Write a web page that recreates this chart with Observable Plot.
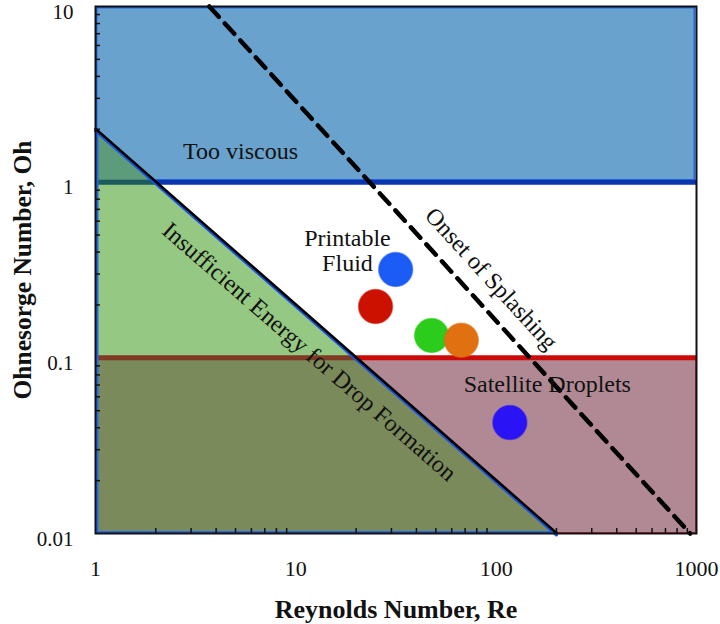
<!DOCTYPE html>
<html><head><meta charset="utf-8">
<script src="https://cdn.jsdelivr.net/npm/d3@7"></script>
<script src="https://cdn.jsdelivr.net/npm/@observablehq/plot@0.6"></script>
<style>body{margin:0;background:#fff} #chart{width:720px;height:624px}</style>
</head><body><div id="chart"></div>
<script>
// ---- data ----
const reTicks = [1, 10, 100, 1000];
const ohTicks = [0.01, 0.1, 1, 10];
const viscousLimit = 1;          // Oh above: too viscous
const satelliteLimit = 0.1;      // Oh below: satellite droplets
const energyRe = [1, 200];       // insufficient-energy boundary
const energyOh = [2, 0.01];
const splashRe = [3.7, 930];     // onset of splashing
const splashOh = [10, 0.01];
const fluidRe = [31.5, 25, 47.6, 67, 117];
const fluidOh = [0.318, 0.196, 0.134, 0.126, 0.0428];
const fluidColor = ["#1a5cf5", "#cc1100", "#2bcc1c", "#e07010", "#2a14f5"];
const labelText = ["Too viscous", "Printable\nFluid", "Satellite Droplets", "Onset of Splashing", "Insufficient Energy for Drop Formation"];
const labelRe = [5.3, 18.1, 180, 94.8, 11.7];
const labelOh = [1.51, 0.41, 0.0714, 0.283, 0.1087];
const labelRotate = [0, 0, 0, 47.5, 41];
const xTitle = "Reynolds Number, Re";
const yTitle = "Ohnesorge Number, Oh";

// ---- derived ----
const W = 720, H = 624, mL = 95, mR = 24, mT = 6, mB = 91;
const reMin = reTicks[0], reMax = reTicks[reTicks.length - 1];
const ohMin = ohTicks[0], ohMax = ohTicks[ohTicks.length - 1];
const L = Math.log10;
function reOnEnergy(oh) {
  const t = (L(oh) - L(energyOh[0])) / (L(energyOh[1]) - L(energyOh[0]));
  return 10 ** (L(energyRe[0]) + t * (L(energyRe[1]) - L(energyRe[0])));
}
const reV = reOnEnergy(viscousLimit), reS = reOnEnergy(satelliteLimit);
const pieceTop = [[energyRe[0], energyOh[0]], [energyRe[0], viscousLimit], [reV, viscousLimit]];
const pieceMid = [[energyRe[0], viscousLimit], [energyRe[0], satelliteLimit], [reS, satelliteLimit], [reV, viscousLimit]];
const pieceBot = [[energyRe[0], satelliteLimit], [energyRe[0], energyOh[1]], [energyRe[1], energyOh[1]], [reS, satelliteLimit]];
const minor = (lo, hi) => { const a = []; for (let d = lo; d < hi * 0.999; d *= 10) for (let m = 2; m <= 9; m++) a.push(d * m); return a; };
const energyPts = energyRe.map((r, i) => [r, energyOh[i]]);
const splashPts = splashRe.map((r, i) => [r, splashOh[i]]);
const fluids = fluidRe.map((r, i) => ({re: r, oh: fluidOh[i], c: fluidColor[i]}));
const labels = labelText.map((t, i) => ({t, re: labelRe[i], oh: labelOh[i], r: labelRotate[i]}));

const font = "Liberation Serif, DejaVu Serif, serif";
const P = d => d[0], Q = d => d[1];
const innerW = W - mL - mR, innerH = H - mT - mB;

const chart = Plot.plot({
  width: W, height: H,
  marginLeft: mL, marginRight: mR, marginTop: mT, marginBottom: mB,
  style: {fontFamily: font, background: "#fff"},
  x: {type: "log", domain: [reMin, reMax], axis: null},
  y: {type: "log", domain: [ohMin, ohMax], axis: null},
  marks: [
    // regime rectangles
    Plot.rect([0], {x1: reMin, x2: reMax, y1: viscousLimit, y2: ohMax, fill: "#69a2cc", stroke: "#2468e8", strokeWidth: 2, inset: 1.5}),
    Plot.rect([0], {x1: reMin, x2: reMax, y1: ohMin, y2: satelliteLimit, fill: "#b08994", stroke: "#c8343c", strokeWidth: 1, inset: 0.5}),
    // insufficient energy triangle pieces
    Plot.line(pieceTop, {x: P, y: Q, fill: "#5c9c7a", stroke: null}),
    Plot.line(pieceMid, {x: P, y: Q, fill: "#95c882", stroke: null}),
    Plot.line(pieceBot, {x: P, y: Q, fill: "#7b8a5b", stroke: null}),
    // threshold lines
    Plot.ruleY([viscousLimit], {x1: reV, x2: reMax, stroke: "#0b36b0", strokeWidth: 5}),
    Plot.ruleY([viscousLimit], {x1: reMin, x2: reV, stroke: "#1d5a5e", strokeWidth: 5}),
    Plot.ruleY([satelliteLimit], {x1: reS, x2: reMax, stroke: "#cc0a0a", strokeWidth: 5}),
    Plot.ruleY([satelliteLimit], {x1: reMin, x2: reS, stroke: "#7e3a22", strokeWidth: 5}),
    // triangle edges
    Plot.ruleY([energyOh[1]], {x1: energyRe[0], x2: energyRe[1], stroke: "#2468e8", strokeWidth: 3, dy: -1}),
    Plot.ruleX([energyRe[0]], {y1: energyOh[1], y2: energyOh[0], stroke: "#2468e8", strokeWidth: 3, dx: 1.5}),
    Plot.line(energyPts, {x: P, y: Q, stroke: "#1a55e0", strokeWidth: 3, dy: 1.5}),
    Plot.line(energyPts, {x: P, y: Q, stroke: "#000", strokeWidth: 2.5, dy: -0.5}),
    // splashing
    Plot.line(splashPts, {x: P, y: Q, stroke: "#000", strokeWidth: 4.5, strokeDasharray: "14,9"}),
    // fluids
    Plot.dot(fluids, {x: "re", y: "oh", r: 17, fill: "c", stroke: "c", strokeOpacity: 0.5}),
    // labels
    Plot.text(labels, {x: "re", y: "oh", text: "t", rotate: "r", fontSize: 24, fill: "#111", lineHeight: 1.05}),
    // frame and minor ticks
    Plot.frame({stroke: "#111", strokeWidth: 2}),
    Plot.tickX(minor(reMin, reMax), {x: d => d, insetTop: innerH - 5, stroke: "#111", strokeWidth: 1.5}),
    Plot.tickY(minor(ohMin, ohMax), {y: d => d, insetRight: innerW - 5, stroke: "#111", strokeWidth: 1.5}),
    // tick labels
    Plot.text(reTicks, {x: d => d, frameAnchor: "bottom", lineAnchor: "middle", dy: 35, text: d => String(d), fontSize: 22, fill: "#111"}),
    Plot.text(ohTicks, {y: d => d, frameAnchor: "left", textAnchor: "end", dx: -22, dy: 5.5, text: d => String(d), fontSize: 21, fill: "#111"}),
    // titles
    Plot.text([xTitle], {frameAnchor: "bottom", lineAnchor: "middle", dy: 76, fontSize: 26, fontWeight: "bold", fill: "#111"}),
    Plot.text([yTitle], {frameAnchor: "left", textAnchor: "middle", lineAnchor: "middle", dx: -73, rotate: -90, fontSize: 25.5, fontWeight: "bold", fill: "#111"})
  ]
});
document.getElementById("chart").append(chart);
</script></body></html>
